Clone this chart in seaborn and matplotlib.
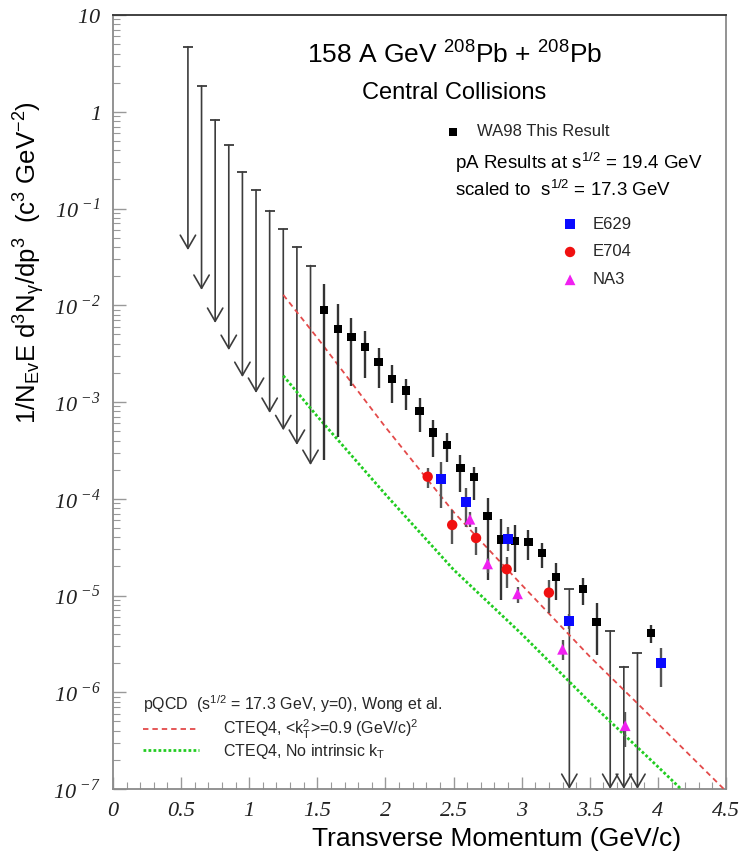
import matplotlib
matplotlib.use("Agg")
import matplotlib.pyplot as plt
from matplotlib.ticker import MultipleLocator, LogLocator, NullFormatter
import seaborn as sns

# ---------------- data ----------------
# WA98 upper limits (low pT): x, cap (upper limit), arrow tip
ul_x = [0.55, 0.65, 0.75, 0.85, 0.95, 1.05, 1.15, 1.25, 1.35, 1.45]
ul_top = [4.7, 1.85, 0.82, 0.45, 0.238, 0.155, 0.095, 0.061, 0.040, 0.0257]
ul_tip = [0.0372, 0.0144, 0.00656, 0.00344, 0.00181, 0.00124, 7.7e-4, 5.1e-4, 3.6e-4, 2.23e-4]

# WA98 upper limits (high pT)
ul2_x = [3.35, 3.65, 3.75, 3.85]
ul2_top = [1.16e-5, 4.3e-6, 1.84e-6, 2.53e-6]
ul2_tip = [1.0e-7, 1.0e-7, 1.0e-7, 1.0e-7]

# WA98 This Result
wa_x = [1.55, 1.65, 1.75, 1.85, 1.95, 2.05, 2.15, 2.25, 2.35, 2.45, 2.55,
        2.65, 2.75, 2.85, 2.95, 3.05, 3.15, 3.25, 3.45, 3.55, 3.95]
wa_y = [8.93e-3, 5.64e-3, 4.67e-3, 3.73e-3, 2.59e-3, 1.74e-3, 1.31e-3, 8.07e-4,
        4.84e-4, 3.62e-4, 2.07e-4, 1.67e-4, 6.68e-5, 3.79e-5, 3.66e-5, 3.6e-5,
        2.73e-5, 1.56e-5, 1.16e-5, 5.36e-6, 4.07e-6]
wa_hi = [1.66e-2, 1.03e-2, 7.43e-3, 5.46e-3, 3.61e-3, 2.41e-3, 1.73e-3, 1.10e-3,
         6.52e-4, 4.79e-4, 2.83e-4, 2.14e-4, 1.01e-4, 6.2e-5, 5.3e-5, 4.75e-5,
         3.49e-5, 2.18e-5, 1.52e-5, 8.3e-6, 4.96e-6]
wa_lo = [2.52e-4, 4.35e-4, 1.46e-3, 1.76e-3, 1.40e-3, 9.77e-4, 8.26e-4, 4.93e-4,
         2.72e-4, 2.37e-4, 1.18e-4, 9.7e-5, 1.45e-5, 8.97e-6, 1.76e-5, 2.33e-5,
         1.92e-5, 8.97e-6, 7.98e-6, 2.43e-6, 3.2e-6]

# E629
e629_x = [2.41, 2.59, 2.90, 3.35, 4.02]
e629_y = [1.59e-4, 9.33e-5, 3.81e-5, 5.45e-6, 1.99e-6]
e629_hi = [2.42e-4, 1.29e-4, 5.1e-5, 6.5e-6, 2.84e-6]
e629_lo = [7.96e-5, 5.14e-5, 2.9e-5, 4.5e-6, 1.14e-6]

# E704
e704_x = [2.31, 2.49, 2.665, 2.89, 3.20]
e704_y = [1.69e-4, 5.36e-5, 3.93e-5, 1.87e-5, 1.07e-5]
e704_hi = [2.07e-4, 7.6e-5, 5.14e-5, 2.5e-5, 1.45e-5]
e704_lo = [1.28e-4, 3.4e-5, 2.6e-5, 1.2e-5, 6.6e-6]

# NA3
na3_x = [2.62, 2.75, 2.97, 3.30, 3.76]
na3_y = [6.14e-5, 2.12e-5, 1.04e-5, 2.78e-6, 4.51e-7]
na3_hi = [7.35e-5, 2.44e-5, 1.23e-5, 3.47e-6, 6.3e-7]
na3_lo = [5.14e-5, 1.71e-5, 8.36e-6, 2.15e-6, 2.74e-7]

# pQCD curves (Wong et al.)
red_x = [1.25, 1.5, 2.0, 2.5, 3.0, 3.5, 4.0, 4.5]
red_y = [1.28e-2, 4.6e-3, 5.5e-4, 7.3e-5, 1.29e-5, 2.34e-6, 4.75e-7, 9.5e-8]
green_x = [1.25, 1.5, 2.0, 2.5, 3.0, 3.5, 4.0, 4.2]
green_y = [1.87e-3, 7.1e-4, 1.11e-4, 1.85e-5, 4.0e-6, 7.9e-7, 1.7e-7, 9.1e-8]

xtick_vals = [0, 0.5, 1, 1.5, 2, 2.5, 3, 3.5, 4, 4.5]
xtick_labels = ["0", "0.5", "1", "1.5", "2", "2.5", "3", "3.5", "4", "4.5"]
ytick_vals = [1e-7, 1e-6, 1e-5, 1e-4, 1e-3, 1e-2, 1e-1, 1, 10]
ytick_labels = [r"$\mathcal{10}^{\ \mathcal{-7}}$", r"$\mathcal{10}^{\ \mathcal{-6}}$",
                r"$\mathcal{10}^{\ \mathcal{-5}}$", r"$\mathcal{10}^{\ \mathcal{-4}}$",
                r"$\mathcal{10}^{\ \mathcal{-3}}$", r"$\mathcal{10}^{\ \mathcal{-2}}$",
                r"$\mathcal{10}^{\ \mathcal{-1}}$", r"$\mathcal{1}$", r"$\mathcal{10}$"]

# ---------------- style ----------------
sns.set_theme(style="white")
plt.rcParams["font.family"] = ["Liberation Sans", "DejaVu Sans"]
plt.rcParams["mathtext.fontset"] = "custom"
plt.rcParams["mathtext.rm"] = "Liberation Sans"
plt.rcParams["mathtext.sf"] = "Liberation Sans"
plt.rcParams["mathtext.it"] = "Liberation Sans:italic"
plt.rcParams["mathtext.bf"] = "Liberation Sans:bold"
plt.rcParams["mathtext.cal"] = "Liberation Serif:italic"

fig = plt.figure(figsize=(7.42, 8.56), dpi=100)
ax = fig.add_axes([113 / 742, 1 - 789 / 856, 613 / 742, 774 / 856])
ax.set_yscale("log")
ax.set_xlim(0, 4.5)
ax.set_ylim(1e-7, 10)

arrow_c = "#3c3c3c"
# upper limit arrows
for x, top, tip in zip(ul_x + ul2_x, ul_top + ul2_top, ul_tip + ul2_tip):
    ax.annotate("", xy=(x, tip), xytext=(x, top),
                arrowprops=dict(arrowstyle="->,head_length=0.95,head_width=0.55",
                                color=arrow_c, lw=1.2, shrinkA=0, shrinkB=0,
                                mutation_scale=10),
                annotation_clip=False, zorder=2)
ax.plot(ul_x + ul2_x, ul_top + ul2_top, marker="_", ms=7, mew=1.3,
        ls="none", color=arrow_c, zorder=2)

# theory curves
sns.lineplot(x=red_x, y=red_y, ax=ax, color="#e34a4a", lw=1.3,
             linestyle=(0, (3, 2.2)), sort=False, estimator=None, zorder=3)
red_line = ax.lines[-1]
sns.lineplot(x=green_x, y=green_y, ax=ax, color="#22cc22", lw=2.0,
             linestyle=(0, (1, 0.8)), sort=False, estimator=None, zorder=3)
green_line = ax.lines[-1]

# error bars
ax.vlines(wa_x, wa_lo, wa_hi, color="#333333", lw=1.7, zorder=3)
ax.vlines(e629_x, e629_lo, e629_hi, color="#555555", lw=1.7, zorder=3)
ax.vlines(e704_x, e704_lo, e704_hi, color="#555555", lw=1.7, zorder=3)
ax.vlines(na3_x, na3_lo, na3_hi, color="#555555", lw=1.7, zorder=3)

# markers
sns.scatterplot(x=wa_x, y=wa_y, ax=ax, marker="s", s=36, color="black",
                edgecolor="none", legend=False, zorder=5)
wa_h = ax.collections[-1]
sns.scatterplot(x=e629_x, y=e629_y, ax=ax, marker="s", s=52, color="#0a0aff",
                edgecolor="none", legend=False, zorder=6)
e629_h = ax.collections[-1]
sns.scatterplot(x=e704_x, y=e704_y, ax=ax, marker="o", s=56, color="#f01010",
                edgecolor="none", legend=False, zorder=6)
e704_h = ax.collections[-1]
sns.scatterplot(x=na3_x, y=na3_y, ax=ax, marker="^", s=60, color="#f020f0",
                edgecolor="none", legend=False, zorder=6)
na3_h = ax.collections[-1]

# ---------------- axes ----------------
ax.set_xticks(xtick_vals)
ax.set_xticklabels(xtick_labels, fontfamily="Liberation Serif", fontstyle="italic",
                   fontsize=16, color="#222222")
ax.xaxis.set_minor_locator(MultipleLocator(0.1))
ax.set_yticks(ytick_vals)
ax.set_yticklabels(ytick_labels, fontsize=16, color="#222222")
ax.yaxis.set_minor_locator(LogLocator(base=10, subs=range(2, 10), numticks=20))
ax.yaxis.set_minor_formatter(NullFormatter())
ax.tick_params(which="both", direction="in", bottom=True, left=True,
               top=False, right=False, color="#999999")
ax.tick_params(which="major", length=9, width=1.0)
ax.tick_params(which="minor", length=5, width=0.8)
ax.tick_params(axis="x", pad=9)
ax.tick_params(axis="y", pad=9)
for name, sp in ax.spines.items():
    sp.set_color("#8a8a8a")
    sp.set_linewidth(1.3)
ax.spines["top"].set_color("#333333")

ax.set_xlabel("Transverse Momentum (GeV/c)", fontsize=19, color="black")
ax.xaxis.set_label_coords(0.625, -0.049)
ax.set_ylabel(r"1/N$_{\mathrm{Ev}}$E d$^{3}$N$_{\mathrm{\gamma}}$/dp$^{3}$  (c$^{3}$ GeV$^{-2}$)",
              fontsize=18.5, color="black")
ax.yaxis.set_label_coords(-0.108, 0.68)

# ---------------- texts and legends ----------------
ax.text(0.558, 0.948, "158 A GeV $^{208}$Pb + $^{208}$Pb", transform=ax.transAxes,
        ha="center", va="center", fontsize=19, color="black")
ax.text(0.556, 0.899, "Central Collisions", transform=ax.transAxes,
        ha="center", va="center", fontsize=17, color="black")
ax.text(0.558, 0.809, "pA Results at s$^{1/2}$ = 19.4 GeV", transform=ax.transAxes,
        ha="left", va="center", fontsize=13.5, color="black")
ax.text(0.558, 0.774, "scaled to  s$^{1/2}$ = 17.3 GeV", transform=ax.transAxes,
        ha="left", va="center", fontsize=13.5, color="black")

leg1 = ax.legend(handles=[wa_h], labels=["WA98 This Result"], loc="center left",
                 bbox_to_anchor=(0.541, 0.849), frameon=False, fontsize=12,
                 handlelength=1.0, handletextpad=0.93, borderpad=0, borderaxespad=0,
                 scatterpoints=1)
ax.add_artist(leg1)
leg2 = ax.legend(handles=[e629_h, e704_h, na3_h], labels=["E629", "E704", "NA3"],
                 loc="center left", bbox_to_anchor=(0.732, 0.694), frameon=False,
                 fontsize=12, handlelength=1.0, handletextpad=0.87, labelspacing=0.77,
                 borderpad=0, borderaxespad=0, scatterpoints=1)
ax.add_artist(leg2)
leg3 = ax.legend(handles=[red_line, green_line],
                 labels=[r"CTEQ4, <$\mathrm{k}_{\mathrm{T}}^{2}$>=0.9 (GeV/c)$^{2}$",
                         r"CTEQ4, No intrinsic k$_{\mathrm{T}}$"],
                 title=r"pQCD  (s$^{1/2}$ = 17.3 GeV, y=0), Wong et al.",
                 title_fontsize=11.5, fontsize=11.5, alignment="left",
                 loc="upper left", bbox_to_anchor=(0.049, 0.124), frameon=False,
                 handlelength=3.5, handletextpad=1.5, labelspacing=0.05,
                 borderpad=0, borderaxespad=0)
leg3._legend_box.sep = 2

fig.savefig("out.png", dpi=100)
